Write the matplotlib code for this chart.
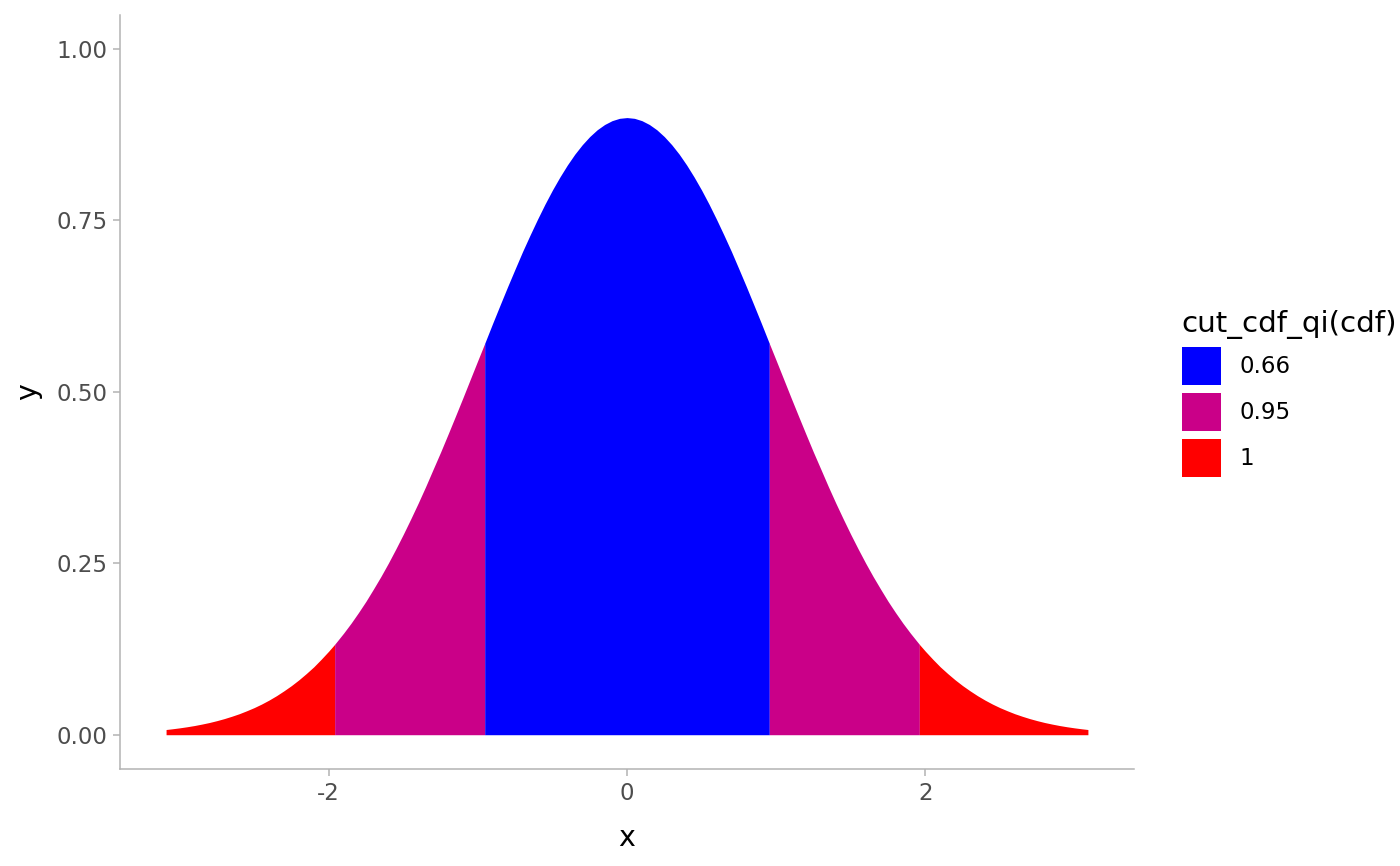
import numpy as np
import matplotlib.pyplot as plt
from matplotlib.patches import Patch

# density curve
x = [-3.09, -3.05, -3.0, -2.95, -2.9, -2.85, -2.8, -2.75, -2.7, -2.65, -2.6, -2.55,
     -2.5, -2.45, -2.4, -2.35, -2.3, -2.25, -2.2, -2.15, -2.1, -2.05, -2.0, -1.96,
     -1.9, -1.85, -1.8, -1.75, -1.7, -1.65, -1.6, -1.55, -1.5, -1.45, -1.4, -1.35,
     -1.3, -1.25, -1.2, -1.15, -1.1, -1.05, -1.0, -0.954, -0.9, -0.85, -0.8, -0.75,
     -0.7, -0.65, -0.6, -0.55, -0.5, -0.45, -0.4, -0.35, -0.3, -0.25, -0.2, -0.15,
     -0.1, -0.05, 0.0, 0.05, 0.1, 0.15, 0.2, 0.25, 0.3, 0.35, 0.4, 0.45,
     0.5, 0.55, 0.6, 0.65, 0.7, 0.75, 0.8, 0.85, 0.9, 0.954, 1.0, 1.05,
     1.1, 1.15, 1.2, 1.25, 1.3, 1.35, 1.4, 1.45, 1.5, 1.55, 1.6, 1.65,
     1.7, 1.75, 1.8, 1.85, 1.9, 1.96, 2.0, 2.05, 2.1, 2.15, 2.2, 2.25,
     2.3, 2.35, 2.4, 2.45, 2.5, 2.55, 2.6, 2.65, 2.7, 2.75, 2.8, 2.85,
     2.9, 2.95, 3.0, 3.05, 3.09]
y = [0.0076, 0.0086, 0.0100, 0.0116, 0.0134, 0.0155, 0.0178, 0.0205, 0.0235, 0.0269, 0.0306, 0.0349,
     0.0395, 0.0447, 0.0505, 0.0569, 0.0640, 0.0716, 0.0800, 0.0892, 0.0990, 0.1101, 0.1218, 0.1318,
     0.1481, 0.1626, 0.1782, 0.1946, 0.2124, 0.2307, 0.2502, 0.2708, 0.2922, 0.3146, 0.3377, 0.3618,
     0.3870, 0.4120, 0.4381, 0.4646, 0.4914, 0.5187, 0.5459, 0.5707, 0.6003, 0.6271, 0.6536, 0.6793,
     0.7047, 0.7286, 0.7517, 0.7737, 0.7943, 0.8133, 0.8308, 0.8466, 0.8604, 0.8723, 0.8822, 0.8899,
     0.8955, 0.8989, 0.9000, 0.8989, 0.8955, 0.8899, 0.8822, 0.8723, 0.8604, 0.8466, 0.8308, 0.8133,
     0.7943, 0.7737, 0.7517, 0.7286, 0.7047, 0.6793, 0.6536, 0.6271, 0.6003, 0.5707, 0.5459, 0.5187,
     0.4914, 0.4646, 0.4381, 0.4120, 0.3870, 0.3618, 0.3377, 0.3146, 0.2922, 0.2708, 0.2502, 0.2307,
     0.2124, 0.1946, 0.1782, 0.1626, 0.1481, 0.1318, 0.1218, 0.1101, 0.0990, 0.0892, 0.0800, 0.0716,
     0.0640, 0.0569, 0.0505, 0.0447, 0.0395, 0.0349, 0.0306, 0.0269, 0.0235, 0.0205, 0.0178, 0.0155,
     0.0134, 0.0116, 0.0100, 0.0086, 0.0076]

# intervals: (lower x, upper x, level)
bands = [(-3.09, -1.96, "1"), (-1.96, -0.954, "0.95"), (-0.954, 0.954, "0.66"),
         (0.954, 1.96, "0.95"), (1.96, 3.09, "1")]
levels = ["0.66", "0.95", "1"]
colours = {"0.66": "#0000FF", "0.95": "#CA0088", "1": "#FF0000"}

tick_col = "#4D4D4D"
line_col = "#B3B3B3"

plt.rcParams['font.family'] = ['DejaVu Sans']

fig = plt.figure(figsize=(14, 8.66), dpi=100)
ax = fig.add_axes([0.0857, 0.112, 0.7243, 0.8710])

xa = np.array(x)
ya = np.array(y)
for lo, hi, lev in bands:
    m = (xa >= lo - 1e-9) & (xa <= hi + 1e-9)
    ax.fill_between(xa[m], 0, ya[m], color=colours[lev], linewidth=0)

ax.set_xlim(-3.399, 3.399)
ax.set_ylim(-0.05, 1.05)
ax.set_xticks([-2, 0, 2])
ax.set_xticklabels(["-2", "0", "2"])
ax.set_yticks([0, 0.25, 0.5, 0.75, 1.0])
ax.set_yticklabels(["0.00", "0.25", "0.50", "0.75", "1.00"])

for s in ["top", "right"]:
    ax.spines[s].set_visible(False)
for s in ["left", "bottom"]:
    ax.spines[s].set_color(line_col)
    ax.spines[s].set_linewidth(1.1)
ax.tick_params(axis='both', colors=line_col, labelcolor=tick_col, labelsize=16.5,
               length=5, width=1.1, pad=4)

ax.set_xlabel("x", fontsize=20.5, labelpad=14)
ax.set_ylabel("y", fontsize=20.5, labelpad=10)

handles = [Patch(facecolor=colours[l], edgecolor='none', label=l) for l in levels]
leg = fig.legend(handles=handles, title="cut_cdf_qi(cdf)", loc='center left',
                 bbox_to_anchor=(0.836, 0.546), frameon=False, fontsize=16.5,
                 title_fontsize=21.2, handlelength=1.7, handleheight=2.18,
                 labelspacing=0.35, handletextpad=0.83, borderpad=0)
leg._legend_box.align = "left"

fig.savefig("out.png", dpi=100)
